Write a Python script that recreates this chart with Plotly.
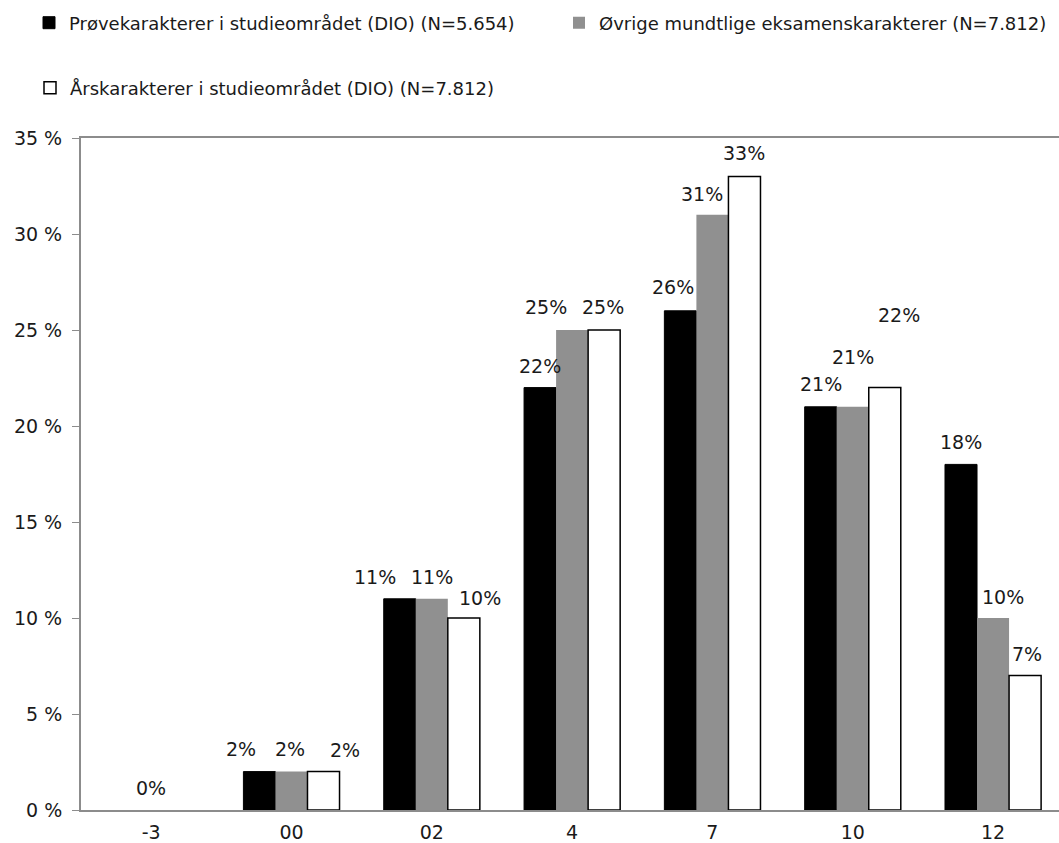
import plotly.graph_objects as go

# ---- data ----
categories = ["-3", "00", "02", "4", "7", "10", "12"]
provekarakterer = [0, 2, 11, 22, 26, 21, 18]
ovrige_mundtlige = [0, 2, 11, 25, 31, 21, 10]
arskarakterer = [0, 2, 10, 25, 33, 22, 7]
series_names = [
    "Prøvekarakterer i studieområdet (DIO) (N=5.654)",
    "Øvrige mundtlige eksamenskarakterer (N=7.812)",
    "Årskarakterer i studieområdet (DIO) (N=7.812)",
]
y_tick_values = [0, 5, 10, 15, 20, 25, 30, 35]
y_tick_labels = ["0 %", "5 %", "10 %", "15 %", "20 %", "25 %", "30 %", "35 %"]

# ---- style / layout ----
W, H = 1059, 843
ML, MR, MT, MB = 81, 0, 138, 33
X_RANGE = [-0.5, 6.47]
BARGAP = 0.315
FONT = "DejaVu Sans"
TXT = "#1a1a1a"
AXIS = "#8c8c8c"

# manual label nudges in px (dx, dy) per series, per category, as in the original
label_nudges = [
    [(0, 0), (-18, 1), (-25, 0), (0, 0), (-7, 2), (0, 1), (0, 0)],
    [(0, 0), (-1, 1), (0, 0), (-26, 1), (-10, -1), (0, 28), (10, -1)],
    [(0, 0), (21, 0), (16, -2), (-1, 1), (0, 1), (14, 51), (2, 0)],
]
hidden_labels = {(0, 0), (2, 0)}  # only one "0%" label shown at -3

all_values = [provekarakterer, ovrige_mundtlige, arskarakterer]
fills = ["#000000", "#909090", "#ffffff"]
lines = ["#000000", "#909090", "#000000"]
line_w = [1, 0, 1.5]
legend_ids = ["legend", "legend2", "legend3"]

fig = go.Figure()
for i, vals in enumerate(all_values):
    # points passed last-to-first so the legend swatch takes a non-empty bar's outline;
    # the axis keeps the category order fixed
    xs = categories[::-1]
    ys = vals[::-1]
    fig.add_trace(go.Bar(
        x=xs, y=ys, name=series_names[i],
        marker=dict(color=fills[i],
                    line=dict(color=lines[i], width=[line_w[i] if v > 0 else 0 for v in ys])),
        legend=legend_ids[i], hoverinfo="skip",
    ))

plot_w = W - ML - MR
cat_px = plot_w / (X_RANGE[1] - X_RANGE[0])
bar_px = cat_px * (1 - BARGAP) / 3

annotations = []
for i, vals in enumerate(all_values):
    for j, v in enumerate(vals):
        if (i, j) in hidden_labels:
            continue
        dx, dy = label_nudges[i][j]
        annotations.append(dict(
            x=j, y=v, xref="x", yref="y",
            text=f"{v}%", showarrow=False,
            xshift=(i - 1) * bar_px + dx, yshift=22 + dy,
            xanchor="center", yanchor="middle",
            font=dict(family=FONT, size=19, color=TXT),
        ))

plot_h = H - MT - MB
def px_to_paper_x(px):
    return (px - ML) / plot_w
def px_to_paper_y(py):
    return (H - MB - py) / plot_h

leg_font = dict(family=FONT, size=18, color=TXT)
fig.update_layout(
    width=W, height=H,
    margin=dict(l=ML, r=MR, t=MT, b=MB, pad=0, autoexpand=False),
    paper_bgcolor="white", plot_bgcolor="white",
    barmode="group", bargap=BARGAP, bargroupgap=0,
    annotations=annotations,
    legend=dict(x=px_to_paper_x(29), y=px_to_paper_y(23), xanchor="left", yanchor="middle",
                font=leg_font, bgcolor="rgba(0,0,0,0)", itemwidth=30),
    legend2=dict(x=px_to_paper_x(559), y=px_to_paper_y(23), xanchor="left", yanchor="middle",
                 font=leg_font, bgcolor="rgba(0,0,0,0)", itemwidth=30),
    legend3=dict(x=px_to_paper_x(30), y=px_to_paper_y(88), xanchor="left", yanchor="middle",
                 font=leg_font, bgcolor="rgba(0,0,0,0)", itemwidth=30),
    showlegend=True,
)
fig.update_xaxes(
    type="category", categoryorder="array", categoryarray=categories,
    range=X_RANGE, showgrid=False, zeroline=False,
    showline=True, mirror=True, linecolor=AXIS, linewidth=2,
    ticks="", ticklabelstandoff=4,
    tickfont=dict(family=FONT, size=19, color=TXT), fixedrange=True,
)
fig.update_yaxes(
    range=[0, 35], tickvals=y_tick_values, ticktext=y_tick_labels,
    showgrid=False, zeroline=False, showline=True, linecolor=AXIS, linewidth=2,
    ticks="outside", ticklen=7, tickcolor=AXIS, tickwidth=1, ticklabelstandoff=6,
    tickfont=dict(family=FONT, size=19, color=TXT), fixedrange=True,
)

fig.write_html("out.html", config={"displayModeBar": False})
